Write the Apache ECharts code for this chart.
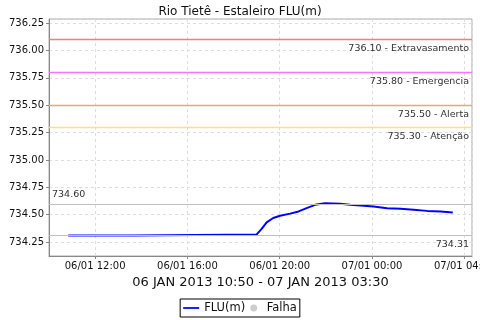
<!DOCTYPE html>
<html>
<head>
<meta charset="utf-8">
<script src="https://cdn.jsdelivr.net/npm/echarts@6/dist/echarts.min.js"></script>
<style>html,body{margin:0;padding:0;background:#fff}#c{width:480px;height:320px}</style>
</head>
<body>
<div id="c"></div>
<script>
var titleText = 'Rio Tietê - Estaleiro FLU(m)';
var xAxisName = '06 JAN 2013 10:50 - 07 JAN 2013 03:30';
var yTicks = [734.25, 734.50, 734.75, 735.00, 735.25, 735.50, 735.75, 736.00, 736.25];
var times = ['2013-01-06 10:50','2013-01-06 13:40','2013-01-06 13:43','2013-01-06 19:00','2013-01-06 19:13','2013-01-06 19:26','2013-01-06 19:43','2013-01-06 20:01','2013-01-06 20:27','2013-01-06 20:49','2013-01-06 21:10','2013-01-06 21:32','2013-01-06 21:58','2013-01-06 22:37','2013-01-06 23:03','2013-01-06 23:30','2013-01-07 00:04','2013-01-07 00:39','2013-01-07 01:14','2013-01-07 01:48','2013-01-07 02:23','2013-01-07 02:58','2013-01-07 03:30'];
var fluValues = [734.31,734.31,734.32,734.32,734.37,734.43,734.47,734.49,734.51,734.53,734.56,734.59,734.605,734.60,734.59,734.585,734.575,734.56,734.555,734.545,734.535,734.53,734.52];
var thresholdValues = [736.10, 735.80, 735.50, 735.30];
var thresholdNames = ['Extravasamento', 'Emergencia', 'Alerta', 'Atenção'];
var maxValue = 734.60;
var minValue = 734.31;
var seriesNames = ['FLU(m)', 'Falha'];

var thresholdColors = ['#ee8080', '#ff70ff', '#f0a860', '#ffe070'];
function pad(n){return (n<10?'0':'')+n;}
var F = 'DejaVu Sans';
var lineData = times.map(function(t,i){return [t, fluValues[i]];});
var markSeries = thresholdValues.map(function(v,i){
  return {name:'t'+i, type:'line', data:[], silent:true,
    markLine:{silent:true, symbol:'none', animation:false,
      lineStyle:{type:'solid', width:1.3, color:thresholdColors[i]},
      label:{fontFamily:F, fontSize:9.5, color:'#333', distance:[3,4], position:'insideEndBottom',
        formatter: v.toFixed(2)+' - '+thresholdNames[i]},
      data:[{yAxis:v}]}};
});
var refData = [
  {yAxis:maxValue, label:{formatter:maxValue.toFixed(2), position:'insideStartTop'}},
  {yAxis:minValue, label:{formatter:minValue.toFixed(2), position:'insideEndBottom'}}
];

var chart = echarts.init(document.getElementById('c'));
chart.setOption({
  animation:false,
  textStyle:{fontFamily:F},
  title:{text:titleText, left:'center', top:1, textStyle:{fontFamily:F, fontSize:12, fontWeight:'normal', color:'#111'}},
  grid:{left:49, right:8, top:19, bottom:64, show:true, borderColor:'#aaa', borderWidth:1, outerBoundsMode:'none', containLabel:false},
  xAxis:{type:'time', min:'2013-01-06 10:00', max:'2013-01-07 04:20',
    minInterval:4*3600*1000, maxInterval:4*3600*1000,
    name:xAxisName, nameLocation:'middle', nameGap:17,
    nameTextStyle:{fontFamily:F, fontSize:13, color:'#111'},
    axisLine:{lineStyle:{color:'#888'}},
    axisTick:{show:true, length:3, lineStyle:{color:'#888'}},
    axisLabel:{fontFamily:F, fontSize:10, color:'#111', margin:5, hideOverlap:false, showMinLabel:false, showMaxLabel:false,
      formatter:function(v){var d=new Date(v);return pad(d.getDate())+'/'+pad(d.getMonth()+1)+' '+pad(d.getHours())+':'+pad(d.getMinutes());}},
    splitLine:{show:true, lineStyle:{color:'#ddd', type:[3,3]}}
  },
  yAxis:{type:'value', min:734.123, max:736.287,
    axisLine:{show:true, lineStyle:{color:'#888'}},
    axisTick:{show:true, length:3, lineStyle:{color:'#888'}, customValues:yTicks},
    axisLabel:{fontFamily:F, fontSize:10, color:'#111', margin:5, customValues:yTicks,
      formatter:function(v){return v.toFixed(2);}},
    splitLine:{show:true, lineStyle:{color:'#ddd', type:[3,3]}}
  },
  legend:{bottom:3, left:'center', borderColor:'#000', borderWidth:1, padding:[3,3], itemGap:5, itemWidth:16, itemHeight:7,
    textStyle:{fontFamily:F, fontSize:11.5, color:'#111'},
    data:[{name:seriesNames[0], icon:'path://M0,0 L20,0 L20,2.2 L0,2.2 Z', itemStyle:{color:'#0000ff'}},{name:seriesNames[1], icon:'circle'}]},
  series:[
    {name:seriesNames[0], type:'line', data:lineData, showSymbol:false, symbol:'none',
      lineStyle:{color:'#0000ff', width:2}, itemStyle:{color:'#0000ff'},
      markLine:{silent:true, symbol:'none', animation:false,
        lineStyle:{type:'solid', width:1, color:'#c0c0c0'},
        label:{fontFamily:F, fontSize:9.5, color:'#333', distance:[3,4]},
        data:refData}},
    {name:seriesNames[1], type:'scatter', data:[], itemStyle:{color:'#c0c0c0'}}
  ].concat(markSeries)
});
</script>
</body>
</html>
